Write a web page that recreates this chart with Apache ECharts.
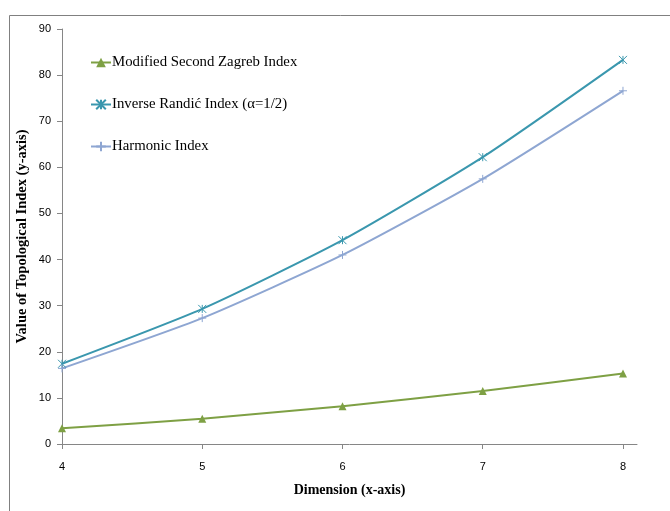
<!DOCTYPE html>
<html>
<head>
<meta charset="utf-8">
<script src="https://cdn.jsdelivr.net/npm/echarts@6/dist/echarts.min.js"></script>
<style>
  html, body { margin: 0; padding: 0; background: #fff; }
  #chart { width: 670px; height: 511px; }
</style>
</head>
<body>
<div id="chart"></div>
<script>
// Dimension values on the x-axis
const dimensions = [4, 5, 6, 7, 8];
const yTicks = [0, 10, 20, 30, 40, 50, 60, 70, 80, 90];

// Topological index values for each dimension
const modifiedSecondZagreb = [3.4, 5.5, 8.2, 11.5, 15.3];
const inverseRandic = [17.4, 29.3, 44.2, 62.2, 83.3];
const harmonicIndex = [16.4, 27.3, 41.0, 57.5, 76.6];

const seriesNames = [
  'Modified Second Zagreb Index',
  'Inverse Randić Index (α=1/2)',
  'Harmonic Index'
];

const pairs = (vals) => dimensions.map((d, i) => [d, vals[i]]);

const crossSymbol = 'path://M0,0L10,10M10,0L0,10M5,0L5,10';
const plusSymbol = 'path://M5,0L5,10M0,5L10,5';

const chart = echarts.init(document.getElementById('chart'));

const serif = '"Liberation Serif", "Times New Roman", serif';
const sans = '"Liberation Sans", Arial, sans-serif';

chart.setOption({
  animation: false,
  backgroundColor: '#ffffff',
  graphic: [{
    type: 'rect',
    shape: { x: 9.5, y: 15.5, width: 700, height: 520 },
    style: { fill: 'none', stroke: '#808080', lineWidth: 1 },
    silent: true
  }],
  grid: { left: 62, top: 29, right: 33, bottom: 67, containLabel: false },
  legend: {
    orient: 'vertical',
    left: 90,
    top: 55,
    padding: 0,
    itemWidth: 20,
    itemHeight: 12,
    itemGap: 27,
    textStyle: { fontFamily: serif, fontSize: 14.8, color: '#000', padding: [0, 0, 0, -4] },
    data: seriesNames
  },
  xAxis: {
    type: 'value',
    min: 4,
    max: 8.1,
    interval: 1,
    name: 'Dimension (x-axis)',
    nameLocation: 'middle',
    nameGap: 39,
    nameMoveOverlap: false,
    nameTextStyle: { fontFamily: serif, fontSize: 14, fontWeight: 'bold', color: '#000' },
    axisLine: { show: true, lineStyle: { color: '#868686', width: 1 } },
    axisTick: { show: true, length: 5, customValues: dimensions, lineStyle: { color: '#868686' } },
    axisLabel: {
      customValues: dimensions,
      margin: 17,
      fontFamily: sans,
      fontSize: 11,
      color: '#000'
    },
    splitLine: { show: false }
  },
  yAxis: {
    type: 'value',
    min: 0,
    max: 90,
    interval: 10,
    name: 'Value of Topological Index (y-axis)',
    nameLocation: 'middle',
    nameGap: 32,
    nameMoveOverlap: false,
    nameTextStyle: { fontFamily: serif, fontSize: 14.5, fontWeight: 'bold', color: '#000' },
    axisLine: { show: true, lineStyle: { color: '#868686', width: 1 } },
    axisTick: { show: true, length: 5, lineStyle: { color: '#868686' } },
    axisLabel: {
      customValues: yTicks,
      margin: 11,
      fontFamily: sans,
      fontSize: 11,
      color: '#000'
    },
    splitLine: { show: false }
  },
  series: [
    {
      name: seriesNames[0],
      type: 'line',
      smooth: 0.2,
      data: pairs(modifiedSecondZagreb),
      symbol: 'triangle',
      symbolSize: 8,
      lineStyle: { color: '#7ea044', width: 2 },
      itemStyle: { color: '#7ea044' }
    },
    {
      name: seriesNames[1],
      type: 'line',
      smooth: 0.2,
      data: pairs(inverseRandic),
      symbol: crossSymbol,
      symbolSize: 8,
      lineStyle: { color: '#3a97ae', width: 2 },
      itemStyle: { color: '#3a97ae', borderColor: '#3a97ae', borderWidth: 1 }
    },
    {
      name: seriesNames[2],
      type: 'line',
      smooth: 0.2,
      data: pairs(harmonicIndex),
      symbol: plusSymbol,
      symbolSize: 8,
      lineStyle: { color: '#8ea6d2', width: 2 },
      itemStyle: { color: '#8ea6d2', borderColor: '#8ea6d2', borderWidth: 1 }
    }
  ]
});
</script>
</body>
</html>
